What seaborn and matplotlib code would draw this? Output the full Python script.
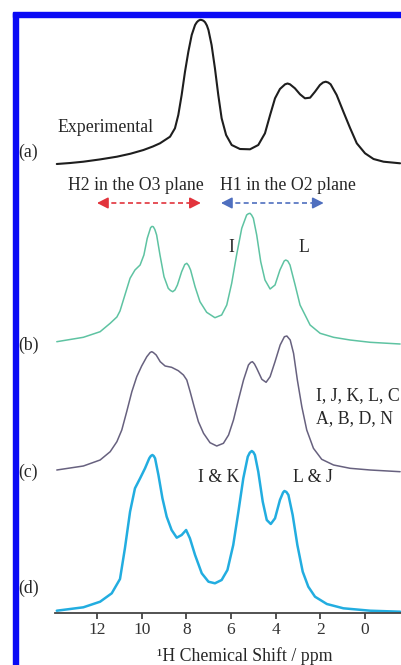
import matplotlib
matplotlib.use("Agg")
import matplotlib.pyplot as plt
import seaborn as sns
import pandas as pd
from matplotlib.patches import Rectangle

# ---------------- data ----------------
# chemical shift (ppm) and intensity above each trace's own baseline
ppm_a = [13.80, 13.20, 12.61, 11.86, 11.11, 10.50, 9.92, 9.50, 9.18, 8.73, 8.51, 8.36,
         8.21, 8.06, 7.91, 7.76, 7.61, 7.53, 7.46, 7.38, 7.31, 7.23, 7.16, 7.08, 7.01,
         6.87, 6.72, 6.57, 6.42, 6.22, 5.97, 5.60, 5.15, 4.78, 4.48, 4.25, 4.03, 3.81,
         3.58, 3.47, 3.36, 3.14, 2.91, 2.69, 2.46, 2.24, 2.02, 1.88, 1.76, 1.65, 1.54,
         1.27, 0.97, 0.67, 0.37, 0.00, -0.38, -0.83, -1.57]
int_a = [0.0, 1.0, 2.3, 4.6, 7.3, 10.3, 14.0, 17.5, 20.7, 27.3, 35.7, 49.0,
         69.0, 92.3, 112.3, 129.0, 139.0, 141.8, 143.3, 144.2, 144.0, 143.2, 141.7, 138.5, 134.0,
         119.0, 95.7, 69.0, 45.7, 29.0, 19.0, 15.0, 14.7, 19.0, 30.7, 49.0, 65.7, 75.0,
         79.7, 80.5, 79.7, 75.7, 69.7, 65.7, 66.3, 72.3, 79.0, 81.5, 82.3, 81.5, 79.7,
         69.0, 52.3, 36.0, 20.7, 10.7, 5.0, 2.3, 0.7]

ppm_b = [13.80, 12.61, 11.86, 11.41, 11.11, 10.97, 10.75, 10.52, 10.30, 10.07, 9.90,
         9.75, 9.60, 9.54, 9.48, 9.41, 9.33, 9.18, 9.00, 8.81, 8.71, 8.61, 8.51, 8.40,
         8.21, 8.07, 7.98, 7.90, 7.81, 7.61, 7.39, 7.09, 6.72, 6.42, 6.19, 5.97, 5.75,
         5.52, 5.30, 5.22, 5.15, 5.08, 5.00, 4.85, 4.67, 4.48, 4.25, 4.03, 3.81, 3.62,
         3.55, 3.46, 3.36, 3.13, 2.91, 2.61, 2.46, 2.01, 1.41, 0.67, -0.23, -1.57]
int_b = [0.3, 4.7, 10.3, 18.7, 25.0, 31.0, 47.0, 63.7, 72.0, 77.0, 87.0,
         103.7, 114.3, 115.6, 115.3, 112.5, 107.0, 87.0, 65.3, 53.7, 51.5, 50.3, 52.0, 57.0,
         70.3, 77.5, 78.7, 76.5, 72.0, 55.3, 40.3, 29.7, 24.3, 27.0, 37.0, 58.7, 87.0,
         113.7, 127.0, 128.3, 128.7, 127.0, 123.7, 107.0, 80.3, 62.0, 53.0, 57.0, 72.0, 81.0,
         82.0, 81.0, 77.0, 57.0, 37.0, 23.7, 17.0, 8.7, 4.7, 2.0, -0.3, -2.0]

ppm_c = [13.80, 12.61, 11.86, 11.41, 11.11, 10.89, 10.67, 10.44, 10.22, 10.00, 9.77,
         9.62, 9.55, 9.48, 9.35, 9.17, 8.95, 8.66, 8.36, 8.13, 7.98, 7.83, 7.65, 7.46,
         7.23, 6.94, 6.64, 6.34, 6.11, 5.89, 5.67, 5.44, 5.22, 5.12, 5.04, 4.95, 4.85,
         4.62, 4.43, 4.25, 4.03, 3.80, 3.61, 3.50, 3.35, 3.20, 3.03, 2.83, 2.61, 2.31,
         1.94, 1.41, 0.67, -0.23, -1.57]
int_c = [0.0, 4.0, 10.0, 18.3, 28.3, 40.0, 58.3, 78.3, 93.3, 104.0, 113.3,
         117.5, 118.3, 117.5, 115.0, 108.3, 104.0, 102.7, 99.3, 95.0, 90.0, 78.3, 63.3, 48.3,
         36.7, 27.3, 24.0, 26.7, 35.0, 50.0, 70.0, 90.0, 105.0, 107.6, 108.3, 106.0, 101.7,
         90.7, 87.7, 93.3, 108.3, 125.0, 133.3, 134.0, 130.0, 116.7, 90.0, 63.3, 40.0, 21.7,
         10.7, 5.0, 1.7, 0.0, -1.7]

ppm_d = [13.80, 12.61, 11.86, 11.34, 10.97, 10.75, 10.52, 10.30, 10.07, 9.85, 9.66,
         9.59, 9.52, 9.46, 9.40, 9.25, 9.07, 8.88, 8.66, 8.43, 8.21, 8.01, 7.84, 7.61,
         7.31, 7.01, 6.72, 6.42, 6.16, 5.90, 5.67, 5.45, 5.25, 5.16, 5.07, 5.00, 4.93,
         4.78, 4.58, 4.40, 4.22, 4.03, 3.81, 3.67, 3.61, 3.52, 3.43, 3.24, 3.03, 2.79,
         2.54, 2.24, 1.71, 0.97, -0.23, -1.57]
int_d = [0.3, 3.7, 9.3, 17.7, 32.0, 62.7, 99.3, 122.7, 132.7, 142.7, 152.7,
         155.0, 156.0, 155.0, 152.7, 136.0, 112.7, 94.3, 81.0, 73.3, 76.0, 81.0, 72.7, 56.0,
         37.7, 29.3, 27.7, 31.0, 41.0, 66.0, 99.3, 132.7, 154.3, 158.3, 160.0, 158.8, 156.0,
         139.3, 109.3, 91.0, 87.0, 92.7, 111.0, 118.5, 120.0, 119.0, 116.0, 96.0, 66.0, 39.3,
         24.3, 14.3, 7.0, 2.7, 0.3, -0.7]

trace_names = ["a", "b", "c", "d"]
trace_offsets = [449, 271, 143, 2]          # stacking offsets (same units as intensity)
trace_colors = ["#1e1e1e", "#5ec3a2", "#67617f", "#22ade0"]
trace_widths = [1.5, 1.1, 1.1, 1.8]
tick_values = [12, 10, 8, 6, 4, 2, 0]

# ---------------- figure ----------------
sns.set_theme(style="white")
plt.rcParams["font.family"] = ["Liberation Serif", "DejaVu Serif"]

W, H = 401, 665
fig = plt.figure(figsize=(W / 100, H / 100), dpi=100)
ax = fig.add_axes([55 / W, (H - 613) / H, (W - 55) / W, 613 / H])

frames = []
for name, xs, ys, off in zip(trace_names, [ppm_a, ppm_b, ppm_c, ppm_d],
                             [int_a, int_b, int_c, int_d], trace_offsets):
    frames.append(pd.DataFrame({"ppm": xs, "y": [v + off for v in ys], "trace": name}))
df = pd.concat(frames, ignore_index=True)

for name, col, lw in zip(trace_names, trace_colors, trace_widths):
    sub = df[df["trace"] == name]
    sns.lineplot(data=sub, x="ppm", y="y", color=col, lw=lw, ax=ax,
                 sort=False, estimator=None, legend=False,
                 solid_joinstyle="round", solid_capstyle="round")

ax.set_xlim(13.88, -1.61)
ax.set_ylim(0, 613)
for s in ["left", "right", "top"]:
    ax.spines[s].set_visible(False)
ax.spines["bottom"].set_color("#444444")
ax.spines["bottom"].set_linewidth(1.3)
ax.set_yticks([])
ax.set_xticks(tick_values)
ax.set_xticklabels([str(t) for t in tick_values], fontsize=12.5, color="#333333")
ax.tick_params(axis="x", direction="out", length=4.5, width=1.3, color="#444444",
               pad=2, bottom=True)
ax.set_xlabel("")
ax.set_ylabel("")
ax.patch.set_alpha(0)


def py(ypx):
    return 613 - ypx


fs = 12.8
txtc = "#262626"
ax.text(13.78, py(128), "Experimental", fontsize=fs, color=txtc, ha="left", va="center")
ax.text(10.25, py(186), "H2 in the O3 plane", fontsize=fs, color=txtc, ha="center", va="center")
ax.text(3.47, py(186), "H1 in the O2 plane", fontsize=fs, color=txtc, ha="center", va="center")
ax.text(6.00, py(247), "I", fontsize=fs, color=txtc, ha="center", va="center")
ax.text(2.73, py(247), "L", fontsize=fs, color=txtc, ha="center", va="center")
ax.text(2.20, py(396), "I, J, K, L, C", fontsize=fs, color=txtc, ha="left", va="center")
ax.text(2.20, py(419), "A, B, D, N", fontsize=fs, color=txtc, ha="left", va="center")
ax.text(6.56, py(478), "I & K", fontsize=fs, color=txtc, ha="center", va="center")
ax.text(2.33, py(478), "L & J", fontsize=fs, color=txtc, ha="center", va="center")

# dashed double arrows
arrow_specs = [(12.0, 7.35, "#e2333c"), (6.45, 1.85, "#4f6fbf")]
ya = py(203)
for x0, x1, c in arrow_specs:
    ax.plot([x0 - 0.25, x1 + 0.25], [ya, ya], ls=(0, (3, 2)), color=c, lw=1.2)
    for xe, xs_ in [(x0, x0 - 0.45), (x1, x1 + 0.45)]:
        ax.annotate("", xy=(xe, ya), xytext=(xs_, ya),
                    arrowprops=dict(arrowstyle="-|>,head_length=0.55,head_width=0.28",
                                    color=c, lw=1.2, shrinkA=0, shrinkB=0))

# panel labels and x label
for lab, ypx in zip(["(a)", "(b)", "(c)", "(d)"], [152, 345, 472, 588]):
    fig.text(18 / W, 1 - ypx / H, lab, fontsize=fs, color=txtc, ha="left", va="center")
fig.text(245 / W, 1 - 656 / H, "\u00b9H Chemical Shift / ppm", fontsize=fs,
         color=txtc, ha="center", va="center")

# blue frame (top and left)
fig.patches.append(Rectangle((13 / W, 0), 4.5 / W, 1 - 12.5 / H, transform=fig.transFigure,
                             color="#0a0af5", zorder=10))
fig.patches.append(Rectangle((13 / W, 1 - 17 / H), 1 - 13 / W, 4.5 / H,
                             transform=fig.transFigure, color="#0a0af5", zorder=10))

fig.savefig("out.png", dpi=100)
